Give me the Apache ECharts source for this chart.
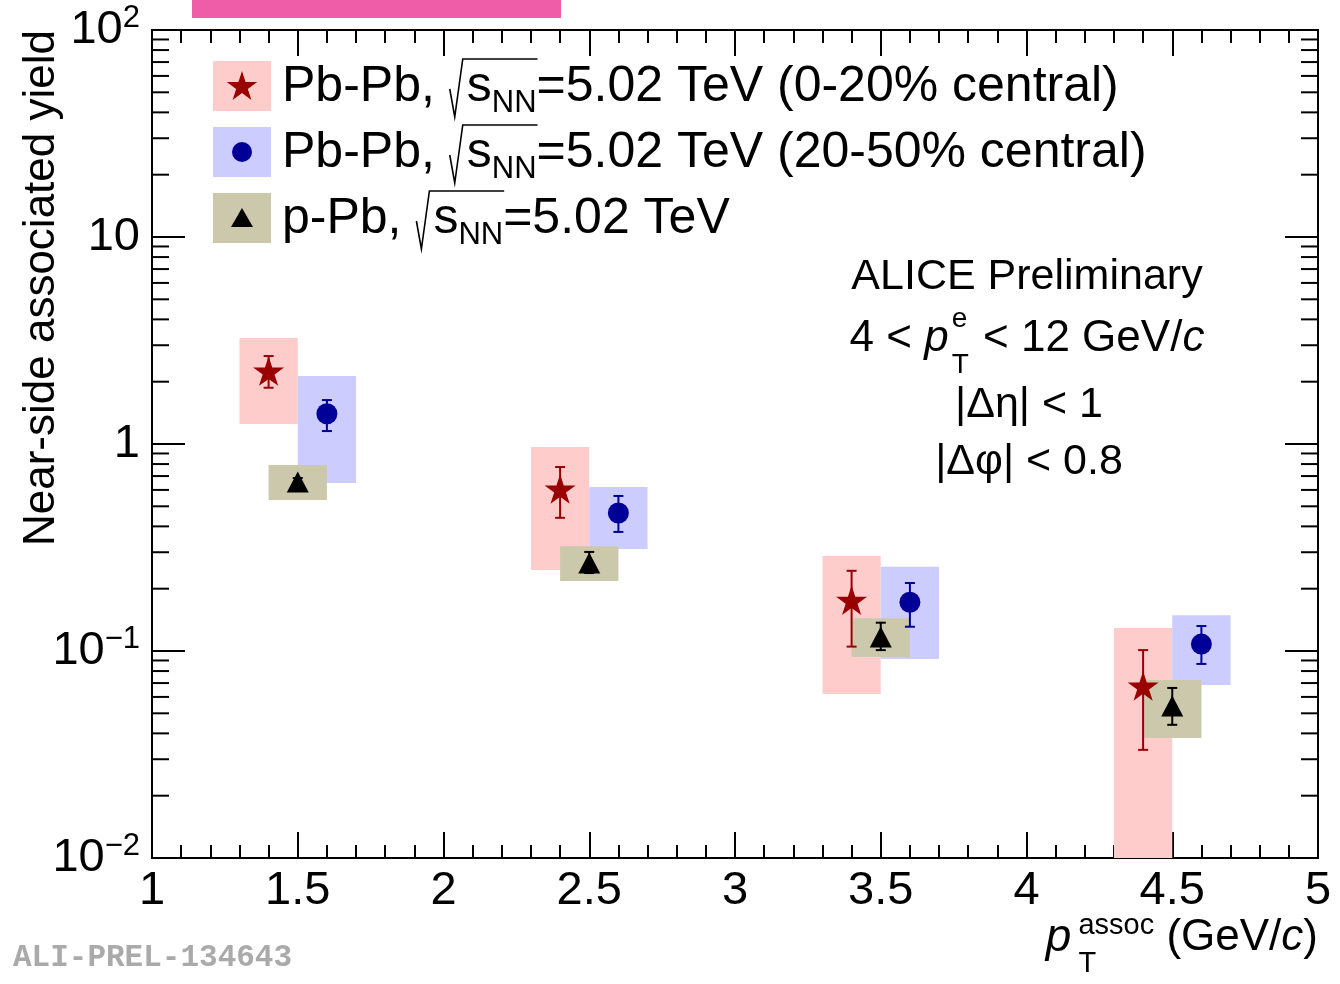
<!DOCTYPE html>
<html>
<head>
<meta charset="utf-8">
<script src="https://cdn.jsdelivr.net/npm/echarts@6/dist/echarts.min.js"></script>
<style>
  html, body { margin: 0; padding: 0; background: #fff; }
  #chart { width: 1340px; height: 984px; }
</style>
</head>
<body>
<div id="chart"></div>
<script>
// ---- data: near-side associated yield vs p_T^assoc ----
const xTickLabels = ['1', '1.5', '2', '2.5', '3', '3.5', '4', '4.5', '5'];

// Pb-Pb 0-20% central
const centralX      = [1.4, 2.4, 3.4, 4.4];
const centralY      = [2.25, 0.606, 0.176, 0.0678];
const centralStatLo = [1.87, 0.44, 0.105, 0.0333];
const centralStatHi = [2.66, 0.774, 0.244, 0.101];
const centralSysLo  = [1.25, 0.246, 0.062, 0.005];
const centralSysHi  = [3.25, 0.967, 0.288, 0.129];

// Pb-Pb 20-50% central
const semiX      = [1.6, 2.6, 3.6, 4.6];
const semiY      = [1.40, 0.464, 0.172, 0.108];
const semiStatLo = [1.155, 0.376, 0.131, 0.0866];
const semiStatHi = [1.63, 0.561, 0.213, 0.132];
const semiSysLo  = [0.648, 0.311, 0.0915, 0.0685];
const semiSysHi  = [2.13, 0.62, 0.255, 0.149];

// p-Pb
const pPbX      = [1.5, 2.5, 3.5, 4.5];
const pPbY      = [0.655, 0.266, 0.117, 0.0542];
const pPbStatLo = [0.625, 0.238, 0.101, 0.044];
const pPbStatHi = [0.685, 0.301, 0.137, 0.0663];
const pPbSysLo  = [0.537, 0.218, 0.0935, 0.038];
const pPbSysHi  = [0.792, 0.321, 0.144, 0.0724];

// minor ticks of the logarithmic y axis
const yMinorTicks = [];
[0.01, 0.1, 1, 10].forEach(d => { for (let m = 2; m <= 9; m++) yMinorTicks.push(+(m * d).toPrecision(3)); });

// ---- helpers ----
const FONT = '"Liberation Sans", Arial, Helvetica, sans-serif';
const mctx = document.createElement('canvas').getContext('2d');
function fontStr(size, italic, bold) { return (italic ? 'italic ' : '') + (bold ? 'bold ' : '') + size + 'px ' + FONT; }
function textW(t, f) { mctx.font = f; return mctx.measureText(t).width; }

// lays out a run of text pieces (sub/superscripts, italics) along one line
function buildRuns(segs, x0, yMid, align) {
  let cur = 0, prevX = 0;
  const xs = [];
  segs.forEach(sg => {
    const f = fontStr(sg.s || 48, sg.it);
    const w = sg.w != null ? sg.w : textW(sg.t, f);
    let x;
    if (sg.stack) { x = prevX; cur = Math.max(cur, x + w); }
    else { x = cur + (sg.pad || 0); cur = x + w; }
    prevX = x;
    xs.push({ x, w, f });
  });
  const off = align === 'center' ? x0 - cur / 2 : (align === 'right' ? x0 - cur : x0);
  const els = [];
  segs.forEach((sg, i) => {
    xs[i].x += off;
    if (sg.t) {
      els.push({
        type: 'text', silent: true, z: 100,
        x: xs[i].x, y: yMid + (sg.dy || 0),
        style: { text: sg.t, font: xs[i].f, fill: sg.c || '#000', align: 'left', verticalAlign: 'middle' }
      });
    }
  });
  return { els, xs };
}

function starPoints(cx, cy, R) {
  const pts = [];
  for (let i = 0; i < 10; i++) {
    const r = i % 2 ? R * 0.382 : R;
    const a = -Math.PI / 2 + i * Math.PI / 5;
    pts.push([cx + r * Math.cos(a), cy + r * Math.sin(a)]);
  }
  return pts;
}
const starPath = 'path://M' + starPoints(0, 0, 10).map(p => p[0].toFixed(3) + ' ' + p[1].toFixed(3)).join(' L') + ' Z';

const RED = '#990000', BLUE = '#000099', BLACK = '#000000';
const RED_BOX = '#ffcccc', BLUE_BOX = '#ccccff', TAN_BOX = '#ccc8ac';
const HALF_W = 0.1;

// ---- legend and annotations ----
const graphics = [];
graphics.push({ type: 'rect', shape: { x: 192, y: 0, width: 369, height: 18 }, style: { fill: '#ef5da8' }, silent: true });

const legendRows = [
  { label: 'Pb-Pb, ', tail: '=5.02 TeV (0-20% central)', box: RED_BOX, mark: 'star', color: RED },
  { label: 'Pb-Pb, ', tail: '=5.02 TeV (20-50% central)', box: BLUE_BOX, mark: 'circle', color: BLUE },
  { label: 'p-Pb, ', tail: '=5.02 TeV', box: TAN_BOX, mark: 'triangle', color: BLACK }
];
legendRows.forEach((row, k) => {
  const yc = 86 + k * 66;
  graphics.push({ type: 'rect', shape: { x: 213, y: yc - 25, width: 58, height: 50 }, style: { fill: row.box }, silent: true });
  if (row.mark === 'star') {
    graphics.push({ type: 'polygon', shape: { points: starPoints(242, yc + 1, 16) }, style: { fill: row.color }, silent: true });
  } else if (row.mark === 'circle') {
    graphics.push({ type: 'circle', shape: { cx: 242, cy: yc, r: 10 }, style: { fill: row.color }, silent: true });
  } else {
    graphics.push({ type: 'polygon', shape: { points: [[242, yc - 10], [253, yc + 9], [231, yc + 9]] }, style: { fill: row.color }, silent: true });
  }
  const r = buildRuns([
    { t: row.label, s: 50 },
    { w: 18 },
    { t: 's', s: 50 },
    { t: 'NN', s: 31, dy: 16 },
    { t: row.tail, s: 50 }
  ], 282, yc + 1, 'left');
  graphics.push(...r.els);
  const rx = r.xs[1].x, ovEnd = r.xs[3].x + r.xs[3].w + 1;
  graphics.push({
    type: 'polyline', silent: true, z: 100,
    shape: { points: [[rx + 1, yc + 3], [rx + 6, yc + 31], [rx + 14, yc - 27], [ovEnd, yc - 27]] },
    style: { stroke: '#000', lineWidth: 1.6, fill: null }
  });
});

// text block at upper right
const TB_X = 1027;
graphics.push(...buildRuns([{ t: 'ALICE Preliminary', s: 43 }], TB_X, 277, 'center').els);
graphics.push(...buildRuns([
  { t: '4 < ', s: 44 },
  { t: 'p', s: 44, it: true },
  { t: 'e', s: 28, dy: -20, pad: 3 },
  { t: 'T', s: 28, dy: 26, stack: true },
  { t: ' < 12 GeV/', s: 44, pad: 2 },
  { t: 'c', s: 44, it: true }
], TB_X, 339, 'center').els);
graphics.push(...buildRuns([{ t: '|\u0394\u03b7| < 1', s: 43 }], TB_X + 2, 405, 'center').els);
graphics.push(...buildRuns([{ t: '|\u0394\u03c6| < 0.8', s: 43 }], TB_X + 2, 462, 'center').els);

// x axis title
graphics.push(...buildRuns([
  { t: 'p', s: 46, it: true },
  { t: 'assoc', s: 29, dy: -12, pad: 7 },
  { t: 'T', s: 29, dy: 26, stack: true },
  { t: ' (GeV/', s: 44 },
  { t: 'c', s: 44, it: true },
  { t: ')', s: 44 }
], 1318, 938, 'right').els);

// y axis title
graphics.push({
  type: 'text', silent: true, x: 42, y: 30, rotation: Math.PI / 2,
  style: { text: 'Near-side associated yield', font: fontStr(44), fill: '#000', align: 'right', verticalAlign: 'middle' }
});

// figure ID
graphics.push({
  type: 'text', silent: true, x: 13, y: 958,
  style: { text: 'ALI-PREL-134643', font: 'bold 31px "Liberation Mono", "DejaVu Sans Mono", monospace', fill: '#aaaaaa', align: 'left', verticalAlign: 'middle' }
});

// ---- series builders ----
function boxSeries(xs, lo, hi, color, z) {
  return {
    type: 'custom', z, silent: true, clip: true,
    data: xs.map((x, i) => [x, lo[i], hi[i]]),
    encode: { x: 0, y: [1, 2] },
    renderItem(params, api) {
      const x = api.value(0);
      const p1 = api.coord([x - HALF_W, api.value(2)]);
      const p2 = api.coord([x + HALF_W, api.value(1)]);
      const cs = params.coordSys;
      const rect = echarts.graphic.clipRectByRect(
        { x: p1[0], y: p1[1], width: p2[0] - p1[0], height: p2[1] - p1[1] },
        { x: cs.x, y: cs.y, width: cs.width, height: cs.height });
      return rect && { type: 'rect', shape: rect, style: { fill: color } };
    }
  };
}
function errSeries(xs, lo, hi, color) {
  return {
    type: 'custom', z: 10, silent: true,
    data: xs.map((x, i) => [x, lo[i], hi[i]]),
    encode: { x: 0, y: [1, 2] },
    renderItem(params, api) {
      const top = api.coord([api.value(0), api.value(2)]);
      const bot = api.coord([api.value(0), api.value(1)]);
      const st = { stroke: color, lineWidth: 2 };
      const cw = 5;
      return {
        type: 'group', children: [
          { type: 'line', shape: { x1: top[0], y1: top[1], x2: bot[0], y2: bot[1] }, style: st },
          { type: 'line', shape: { x1: top[0] - cw, y1: top[1], x2: top[0] + cw, y2: top[1] }, style: st },
          { type: 'line', shape: { x1: bot[0] - cw, y1: bot[1], x2: bot[0] + cw, y2: bot[1] }, style: st }
        ]
      };
    }
  };
}
function pointSeries(xs, ys, symbol, size, color) {
  return {
    type: 'scatter', z: 12, silent: true,
    data: xs.map((x, i) => [x, ys[i]]),
    symbol, symbolSize: size,
    itemStyle: { color, opacity: 1 }
  };
}

const tickStyle = { color: '#000', width: 2 };
function xAxisCfg(pos, showLabel) {
  return {
    type: 'value', position: pos, min: 1, max: 5, interval: 0.5,
    axisLine: { show: true, onZero: false, lineStyle: tickStyle },
    axisTick: { show: true, inside: true, length: 26, lineStyle: tickStyle },
    minorTick: { show: true, splitNumber: 5, length: 13, lineStyle: { color: '#000', width: 2 } },
    splitLine: { show: false },
    axisLabel: {
      show: showLabel, fontSize: 47, fontFamily: FONT, color: '#000', margin: 10,
      formatter: v => xTickLabels[Math.round((v - 1) / 0.5)] || ''
    }
  };
}
function yAxisCfg(pos, showLabel) {
  return {
    type: 'log', logBase: 10, position: pos, min: 0.01, max: 100,
    axisLine: { show: true, onZero: false, lineStyle: tickStyle },
    axisTick: { show: true, inside: true, length: 33, lineStyle: tickStyle },
    splitLine: { show: false },
    axisLabel: {
      show: showLabel, fontSize: 47, fontFamily: FONT, color: '#000', margin: 12,
      formatter: v => {
        const e = Math.round(Math.log10(v));
        if (e === 1) return '10';
        if (e === 0) return '1';
        return '{b|10}{s|' + (e < 0 ? '\u2212' : '') + Math.abs(e) + '}';
      },
      rich: {
        b: { fontSize: 47, fontFamily: FONT, color: '#000' },
        s: { fontSize: 31, fontFamily: FONT, color: '#000', verticalAlign: 'top', padding: [0, 0, 24, 0] }
      }
    }
  };
}

const option = {
  animation: false,
  backgroundColor: '#fff',
  grid: { left: 152, right: 22, top: 30, bottom: 126, show: true, borderColor: '#000', borderWidth: 2, backgroundColor: 'transparent' },
  xAxis: [xAxisCfg('bottom', true), xAxisCfg('top', false)],
  yAxis: [yAxisCfg('left', true), yAxisCfg('right', false)],
  graphic: graphics,
  series: [
    boxSeries(centralX, centralSysLo, centralSysHi, RED_BOX, 3),
    boxSeries(semiX, semiSysLo, semiSysHi, BLUE_BOX, 4),
    boxSeries(pPbX, pPbSysLo, pPbSysHi, TAN_BOX, 5),
    errSeries(centralX, centralStatLo, centralStatHi, RED),
    errSeries(semiX, semiStatLo, semiStatHi, BLUE),
    errSeries(pPbX, pPbStatLo, pPbStatHi, BLACK),
    pointSeries(centralX, centralY, starPath, [31, 29.5], RED),
    pointSeries(semiX, semiY, 'circle', 21, BLUE),
    pointSeries(pPbX, pPbY, 'triangle', [22, 21], BLACK),
    {
      // minor ticks (2..9 per decade) on the left and right log axes
      type: 'custom', z: 20, silent: true, clip: false,
      data: yMinorTicks.map(v => [1, v]),
      encode: { x: 0, y: 1 },
      renderItem(params, api) {
        const y = api.coord([1, api.value(1)])[1];
        const cs = params.coordSys;
        const st = { stroke: '#000', lineWidth: 2 };
        return {
          type: 'group', children: [
            { type: 'line', shape: { x1: cs.x, y1: y, x2: cs.x + 17, y2: y }, style: st },
            { type: 'line', shape: { x1: cs.x + cs.width - 17, y1: y, x2: cs.x + cs.width, y2: y }, style: st }
          ]
        };
      }
    }
  ]
};

const chart = echarts.init(document.getElementById('chart'), null, { renderer: 'canvas' });
chart.setOption(option);
</script>
</body>
</html>
